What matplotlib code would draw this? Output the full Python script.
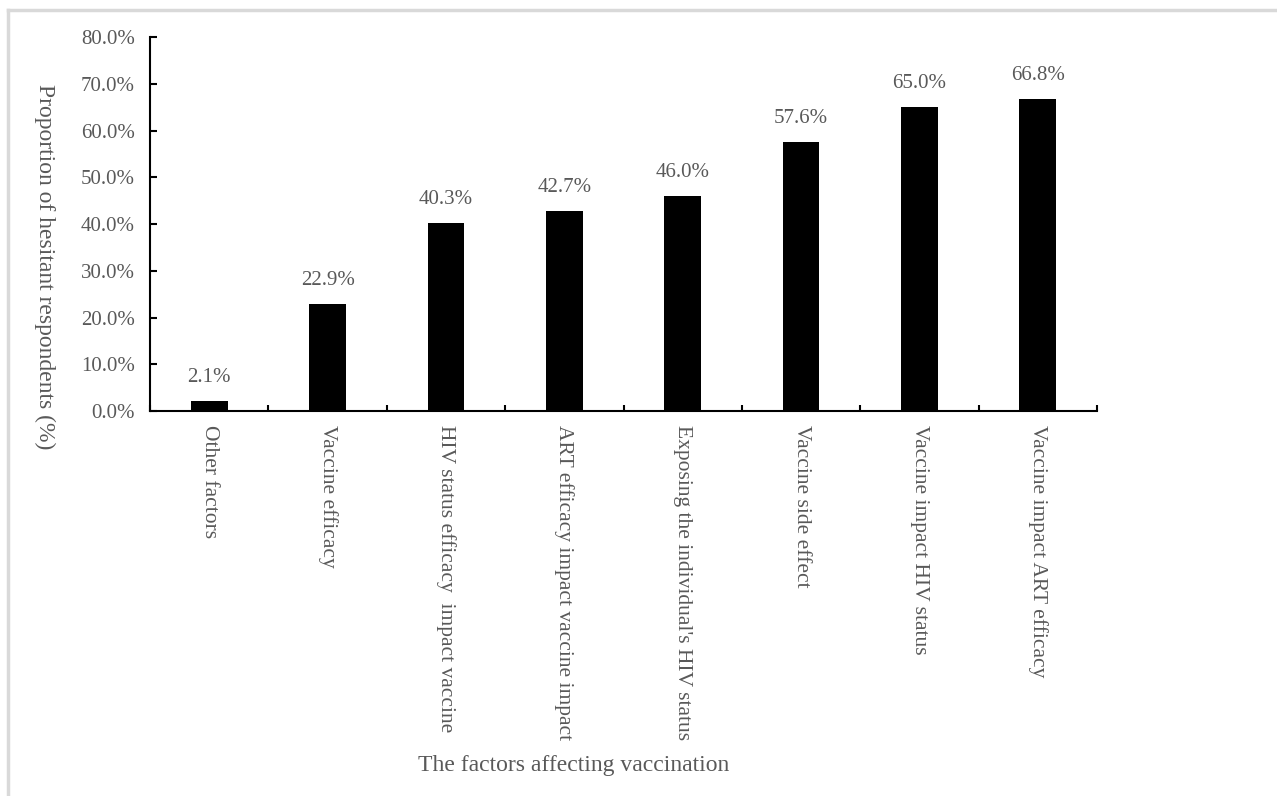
import numpy as np
import matplotlib
matplotlib.use('Agg')
import matplotlib.pyplot as plt
from matplotlib.lines import Line2D
from matplotlib.ticker import PercentFormatter

plt.rcParams['font.family'] = ['Liberation Serif', 'DejaVu Serif']

# data
factors = ["Other factors", "Vaccine efficacy", "HIV status efficacy  impact vaccine",
           "ART efficacy impact vaccine impact", "Exposing the individual's HIV status",
           "Vaccine side effect", "Vaccine impact HIV status", "Vaccine impact ART efficacy"]
proportions = [2.1, 22.9, 40.3, 42.7, 46.0, 57.6, 65.0, 66.8]
yticks = [0, 10, 20, 30, 40, 50, 60, 70, 80]

GRAY = '#595959'

fig = plt.figure(figsize=(12.77, 7.96), dpi=100)
ax = fig.add_axes([150/1277, 1-411/796, (1097-150)/1277, (411-37)/796])

x = np.arange(len(factors))
bars = ax.bar(x, proportions, width=0.31, color='black')

for b, v in zip(bars, proportions):
    ax.annotate(f"{v:.1f}%", (b.get_x() + b.get_width()/2, v),
                xytext=(0, 10), textcoords='offset points',
                ha='center', va='bottom', fontsize=15, color=GRAY)

ax.set_xlim(-0.5, len(factors) - 0.5)
ax.set_ylim(0, 80)
ax.set_yticks(yticks)
ax.yaxis.set_major_formatter(PercentFormatter(decimals=1))

ax.set_xticks(x)
ax.set_xticklabels(factors, rotation=270, va='top', ha='center')
ax.set_xticks(np.arange(len(factors) + 1) - 0.5, minor=True)

ax.tick_params(axis='y', direction='in', length=5, width=1.5, pad=11,
               labelsize=15, labelcolor=GRAY)
ax.tick_params(axis='x', which='major', length=0, pad=10,
               labelsize=15.5, labelcolor=GRAY)
ax.tick_params(axis='x', which='minor', direction='in', length=4.5, width=1.5)

for s in ['top', 'right']:
    ax.spines[s].set_visible(False)
for s in ['left', 'bottom']:
    ax.spines[s].set_linewidth(1.5)

fig.text(45/1277, 1-267/796, "Proportion of hesitant respondents (%)",
         rotation=270, ha='center', va='center', fontsize=17, color=GRAY)
fig.text(574/1277, 1-765/796, "The factors affecting vaccination",
         ha='center', va='center', fontsize=17, color=GRAY)

# light frame around the figure
fig.add_artist(Line2D([8/1277, 1], [1-10/796, 1-10/796], color='#d9d9d9', lw=2.5,
                      transform=fig.transFigure))
fig.add_artist(Line2D([8/1277, 8/1277], [0, 1-10/796], color='#d9d9d9', lw=2.5,
                      transform=fig.transFigure))

fig.savefig('out.png', dpi=100)
